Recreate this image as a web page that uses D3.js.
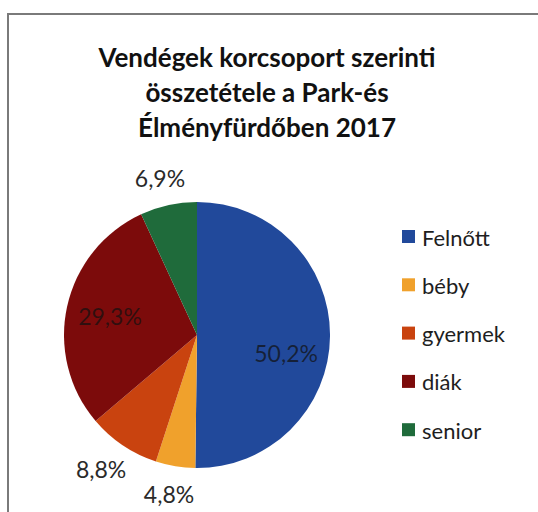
<!DOCTYPE html>
<html>
<head>
<meta charset="utf-8">
<script src="https://cdn.jsdelivr.net/npm/d3@7"></script>
<style>
  html, body { margin: 0; padding: 0; background: #fff; }
  svg { display: block; font-family: Lato, "Open Sans", sans-serif; }
</style>
</head>
<body>
<svg id="chart" width="538" height="512"></svg>
<script>
const titleLines = ['Vendégek korcsoport szerinti', 'összetétele a Park-és', 'Élményfürdőben 2017'];
const categories = ['Felnőtt', 'béby', 'gyermek', 'diák', 'senior'];
const shares = [50.2, 4.8, 8.8, 29.3, 6.9];
const colors = ['#21499b', '#f0a12c', '#c9430f', '#7c0b0b', '#1f6b3b'];

const width = 538, height = 512;
const cx = 197, cy = 335, r = 133;

const svg = d3.select('#chart');

// Frame (cut off by the window on the right and bottom)
svg.append('rect')
  .attr('x', 8).attr('y', 14)
  .attr('width', width + 40).attr('height', height + 40)
  .attr('fill', '#fff')
  .attr('stroke', '#7a7a7a')
  .attr('stroke-width', 2);

// Title
svg.append('g')
  .selectAll('text')
  .data(titleLines)
  .enter().append('text')
  .attr('x', 267)
  .attr('y', (d, i) => 67 + i * 35)
  .attr('text-anchor', 'middle')
  .attr('font-size', 26)
  .attr('font-weight', 700)
  .attr('fill', '#111')
  .text(d => d);

// Pie
const data = categories.map((c, i) => ({ name: c, value: shares[i], color: colors[i] }));
const pie = d3.pie().sort(null).value(d => d.value);
const arcs = pie(data);
const arc = d3.arc().innerRadius(0).outerRadius(r);

const g = svg.append('g').attr('transform', `translate(${cx},${cy})`);

g.selectAll('path')
  .data(arcs)
  .enter().append('path')
  .attr('d', arc)
  .attr('fill', d => d.data.color);

// Data labels: large slices inside, small ones outside the edge
const fmt = v => d3.format('.1f')(v).replace('.', ',') + '%';
const labelSize = 23;

g.selectAll('.lbl')
  .data(arcs)
  .enter().append('text')
  .attr('class', 'lbl')
  .attr('text-anchor', 'middle')
  .attr('dominant-baseline', 'central')
  .attr('font-size', labelSize)
  .attr('fill', d => d.data.value > 15 ? '#111' : '#2a2a2a')
  .attr('fill-opacity', d => d.data.value > 15 ? 0.72 : 1)
  .text(d => fmt(d.data.value))
  .each(function(d) {
    const mid = (d.startAngle + d.endAngle) / 2;
    const ux = Math.sin(mid), uy = -Math.cos(mid);
    let x, y;
    if (d.data.value > 15) {
      x = ux * r * 0.67;
      y = uy * r * 0.67;
      if (d.index === 0) y += 17;
    } else {
      const bb = this.getBBox();
      x = ux * (r + 14 + bb.width / 2);
      y = uy * (r + 14 + bb.height / 2);
    }
    d3.select(this).attr('x', x).attr('y', y);
  });

// Legend
const legend = svg.append('g').attr('transform', 'translate(402,0)');
const row = legend.selectAll('g')
  .data(data)
  .enter().append('g')
  .attr('transform', (d, i) => `translate(0,${237 + i * 48.3})`);

row.append('rect')
  .attr('x', 0).attr('y', -7)
  .attr('width', 13).attr('height', 13)
  .attr('fill', d => d.color);

row.append('text')
  .attr('x', 20)
  .attr('y', 0)
  .attr('dominant-baseline', 'central')
  .attr('font-size', 22)
  .attr('fill', '#1e1e1e')
  .text(d => d.name);
</script>
</body>
</html>
